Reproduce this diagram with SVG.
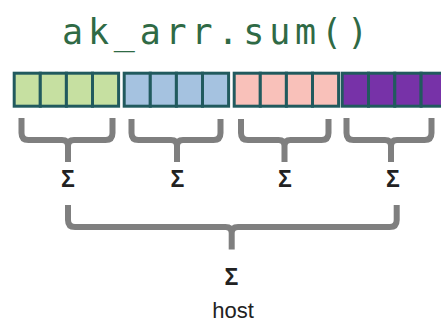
<svg xmlns="http://www.w3.org/2000/svg" width="441" height="326" viewBox="0 0 441 326">
  <style>
    .title { font-family: "DejaVu Sans Mono", "Liberation Mono", monospace; font-size: 35px; fill: #2f6a45; }
    .cell { stroke: #215a5e; stroke-width: 3; }
    .g { fill: #c6e0a1; }
    .b { fill: #a5c2e0; }
    .p { fill: #f9c1ba; }
    .v { fill: #7732a8; }
    .brace { fill: none; stroke: #7f7f7f; stroke-width: 6; stroke-linejoin: round; stroke-linecap: butt; }
    .sig { font-family: "Liberation Sans", Arial, sans-serif; font-weight: bold; font-size: 23px; fill: #222222; text-anchor: middle; }
    .host { font-family: "Liberation Sans", Arial, sans-serif; font-size: 22px; fill: #222222; text-anchor: middle; }
  </style>
  <rect width="441" height="326" fill="#ffffff"/>
  <g id="title">
    <text class="title" x="62" y="44" textLength="306" lengthAdjust="spacing">ak_arr.sum()</text>
  </g>
  <g id="array">
    <g id="block-green">
      <rect class="cell g" x="14.2" y="73.2" width="26.1" height="33"/>
      <rect class="cell g" x="40.3" y="73.2" width="26.1" height="33"/>
      <rect class="cell g" x="66.4" y="73.2" width="26.1" height="33"/>
      <rect class="cell g" x="92.5" y="73.2" width="26.1" height="33"/>
    </g>
    <g id="block-blue">
      <rect class="cell b" x="124.2" y="73.2" width="26.1" height="33"/>
      <rect class="cell b" x="150.3" y="73.2" width="26.1" height="33"/>
      <rect class="cell b" x="176.4" y="73.2" width="26.1" height="33"/>
      <rect class="cell b" x="202.5" y="73.2" width="26.1" height="33"/>
    </g>
    <g id="block-pink">
      <rect class="cell p" x="234.2" y="73.2" width="26.1" height="33"/>
      <rect class="cell p" x="260.3" y="73.2" width="26.1" height="33"/>
      <rect class="cell p" x="286.4" y="73.2" width="26.1" height="33"/>
      <rect class="cell p" x="312.5" y="73.2" width="26.1" height="33"/>
    </g>
    <g id="block-purple">
      <rect class="cell v" x="342.2" y="73.2" width="26.3" height="33"/>
      <rect class="cell v" x="368.5" y="73.2" width="26.3" height="33"/>
      <rect class="cell v" x="394.8" y="73.2" width="26.3" height="33"/>
      <rect class="cell v" x="421.1" y="73.2" width="26.3" height="33"/>
    </g>
  </g>
  <g id="connectors">
    <path class="brace" d="M21.5,118 V133 Q21.5,140 28.5,140 H62 Q68,140 68,146 Q68,140 74,140 H105.5 Q112.5,140 112.5,133 V118 M68,146 V162"/>
    <path class="brace" d="M131.5,119 V133 Q131.5,140 138.5,140 H171 Q177,140 177,146 Q177,140 183,140 H213.5 Q220.5,140 220.5,133 V119 M177,146 V162"/>
    <path class="brace" d="M241,119 V133 Q241,140 248,140 H278.5 Q284.5,140 284.5,146 Q284.5,140 290.5,140 H321.5 Q328.5,140 328.5,133 V119 M284.5,146 V162"/>
    <path class="brace" d="M346.5,118 V133 Q346.5,140 353.5,140 H385 Q391,140 391,146 Q391,140 397,140 H424.5 Q431.5,140 431.5,133 V118 M391,146 V162"/>
    <path class="brace" d="M68,205 V220 Q68,227 75,227 H225.5 Q231.7,227 231.7,233 Q231.7,227 238,227 H389.7 Q396.7,227 396.7,220 V205 M231.7,233 V249.5"/>
  </g>
  <g id="sum1"><text class="sig" x="68" y="187">Σ</text></g>
  <g id="sum2"><text class="sig" x="177.5" y="187">Σ</text></g>
  <g id="sum3"><text class="sig" x="285" y="187">Σ</text></g>
  <g id="sum4"><text class="sig" x="393" y="187">Σ</text></g>
  <g id="host">
    <text class="sig" x="231.5" y="285">Σ</text>
    <text class="host" x="233" y="318">host</text>
  </g>
</svg>
